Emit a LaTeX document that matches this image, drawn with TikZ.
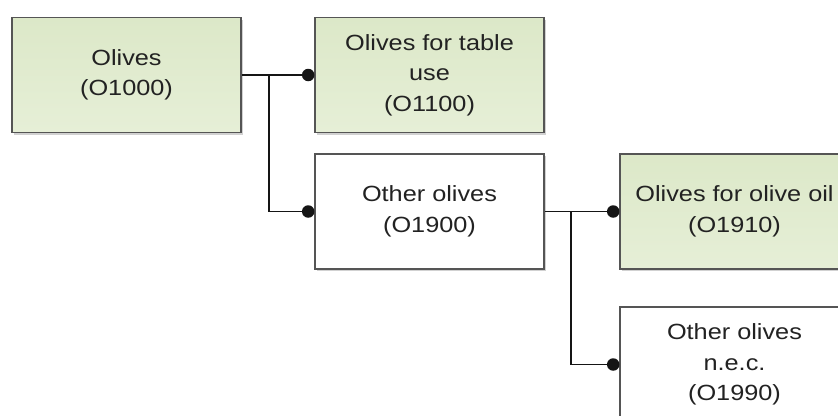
\documentclass[tikz,border=0pt]{standalone}
\usepackage{fontspec}
\setmainfont[FakeStretch=1.15]{Liberation Sans}
\usetikzlibrary{shadows}

\definecolor{boxline}{HTML}{555555}
\definecolor{inktext}{HTML}{222222}
\definecolor{leaftop}{HTML}{DCE8C8}
\definecolor{leafbot}{HTML}{E6EFD7}
\definecolor{wire}{HTML}{151515}

\tikzset{
  catbox/.style={
    draw=boxline, line width=1.6pt, rectangle,
    minimum width=229pt, minimum height=115pt,
    align=center, text=inktext,
    font=\fontsize{22}{30.5}\selectfont,
    drop shadow={shadow xshift=2pt, shadow yshift=-2pt, fill=black, opacity=0.18}
  },
  leafbox/.style={catbox, top color=leaftop, bottom color=leafbot},
  plainbox/.style={catbox, fill=white},
  link/.style={draw=wire, line width=1.9pt},
  joint/.style={circle, fill=wire, inner sep=0pt, minimum size=12.5pt}
}

\begin{document}
\begin{tikzpicture}[x=1pt, y=-1pt]
  \clip (0,0) rectangle (838,415);
  \fill[white] (0,0) rectangle (838,415);

  % category boxes
  \node[leafbox]  (olives)  at (126.5,75)    {Olives\\(O1000)};
  \node[leafbox]  (table)   at (429.5,75)    {Olives for table\\use\\(O1100)};
  \node[plainbox] (other)   at (429.5,211.5) {Other olives\\(O1900)};
  \node[leafbox]  (oil)     at (734.5,211.5) {Olives for olive oil\\(O1910)};
  \node[plainbox] (nec)     at (734.5,364.5) {Other olives\\n.e.c.\\(O1990)};

  % junction points of the tree branches
  \coordinate (j1) at (269,75);
  \coordinate (j2) at (571,211.5);

  % connectors
  \draw[link] (olives.east) -- (table.west);
  \draw[link] (j1) |- (other.west);
  \draw[link] (other.east) -- (oil.west);
  \draw[link] (j2) |- (nec.west);

  % round terminals where the connectors meet the child boxes
  \foreach \child in {table, other, oil, nec}
    \node[joint] at ([xshift=-6pt]\child.west) {};
\end{tikzpicture}
\end{document}
